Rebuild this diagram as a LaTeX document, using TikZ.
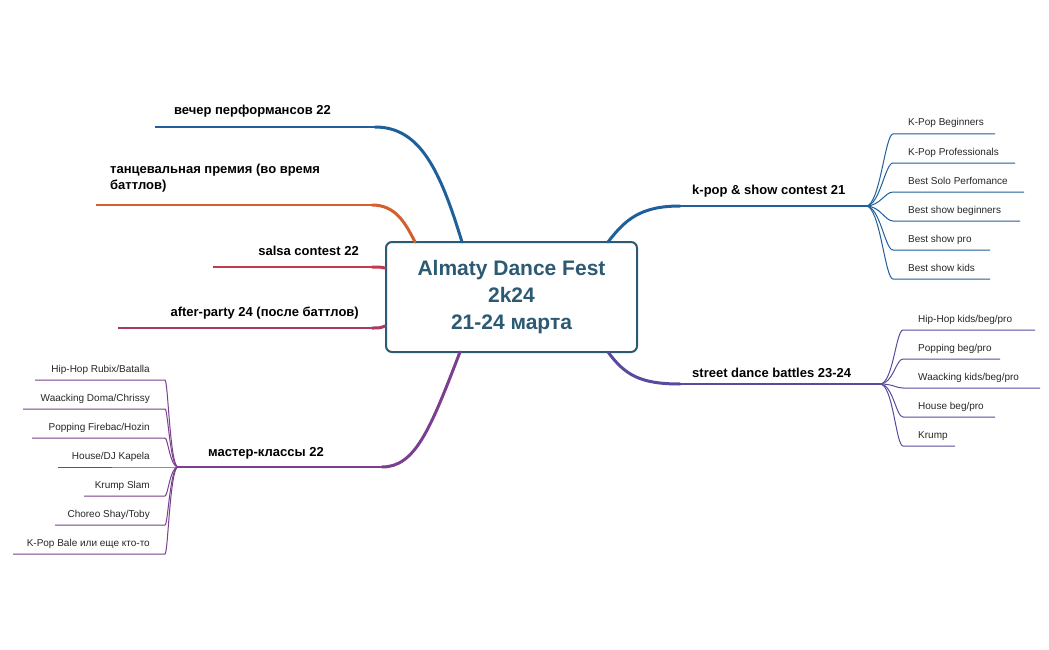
\documentclass[tikz,border=0pt]{standalone}
\usepackage{fontspec}
\setmainfont{Liberation Sans}
\definecolor{cblue}{HTML}{1F5F9A}
\definecolor{corange}{HTML}{D2602E}
\definecolor{cred}{HTML}{C23A4E}
\definecolor{cmag}{HTML}{A83A62}
\definecolor{cpurp}{HTML}{7A3F8E}
\definecolor{cind}{HTML}{5A4A9E}
\definecolor{cbox}{HTML}{2C5A73}
\tikzset{
 main/.style={font=\fontsize{13}{16}\selectfont\bfseries,inner sep=0pt},
 leaf/.style={font=\fontsize{10}{12}\selectfont,inner sep=0pt,text=black!85},
 br/.style={line width=3pt,line cap=round},
 ul/.style={line width=1.8pt},
 lf/.style={line width=1pt},
}
\begin{document}
\begin{tikzpicture}[x=1pt,y=-1pt]
\useasboundingbox (0,0) rectangle (1049,650);
\node[draw=cbox,line width=2pt,rounded corners=6pt,minimum width=251pt,minimum height=110pt,align=center,text=cbox,font=\fontsize{21}{27}\selectfont\bfseries] (c) at (511.5,297) {Almaty Dance Fest\\2k24\\21-24 марта};
% left 1
\node[main,anchor=base east] (l1) at (331,115) {вечер перформансов 22};
\coordinate (l1a) at (375,127); \coordinate (l1b) at (155,127);
\draw[cblue,br] (462,242) .. controls (440,170) and (420,127) .. (l1a);
\draw[cblue,ul] (l1a) -- (l1b);
% left 2
\node[main,anchor=north west,align=left] (l2) at (110,164) {танцевальная премия (во время\\баттлов)};
\coordinate (l2a) at (372,205); \coordinate (l2b) at (96,205);
\draw[corange,br] (415,242) .. controls (405,222) and (395,205) .. (l2a);
\draw[corange,ul] (l2a) -- (l2b);
% left 3
\node[main,anchor=base east] (l3) at (359,255) {salsa contest 22};
\coordinate (l3a) at (372,267); \coordinate (l3b) at (213,267);
\draw[cred,br] (c.west|-0,268) .. controls (380,267) .. (l3a);
\draw[cred,ul] (l3a) -- (l3b);
% left 4
\node[main,anchor=base east] (l4) at (359,316) {after-party 24 (после баттлов)};
\coordinate (l4a) at (372,328); \coordinate (l4b) at (118,328);
\draw[cmag,br] (c.west|-0,326) .. controls (380,328) .. (l4a);
\draw[cmag,ul] (l4a) -- (l4b);
% left 5
\node[main,anchor=base west] (l5) at (208,456) {мастер-классы 22};
\coordinate (l5a) at (382,467); \coordinate (l5b) at (178,467);
\draw[cpurp,br] (460,352) .. controls (430,430) and (415,467) .. (l5a);
\draw[cpurp,ul] (l5a) -- (l5b);
\foreach \t/\y/\s [count=\i] in {{Hip-Hop Rubix/Batalla}/380/35,{Waacking Doma/Chrissy}/409/23,{Popping Firebac/Hozin}/438/32,{House/DJ Kapela}/467/58,{Krump Slam}/496/84,{Choreo Shay/Toby}/525/55,{K-Pop Bale или еще кто-то}/554/13}{
 \node[leaf,anchor=base east] (m\i) at (150,\y-8) {\t};
 \coordinate (m\i e) at (165,\y);
 \draw[cpurp,lf] (l5b) .. controls (170,467) and (168,\y) .. (m\i e) -- (\s,\y);
}
% right 6
\node[main,anchor=base west] (r1) at (692,194) {k-pop \& show contest 21};
\coordinate (r1a) at (680,206); \coordinate (r1b) at (866,206);
\draw[cblue,br] (608,242) .. controls (625,220) and (640,206) .. (r1a);
\draw[cblue,ul] (r1a) -- (r1b);
\foreach \t/\y/\s [count=\i] in {{K-Pop Beginners}/134/995,{K-Pop Professionals}/163/1015,{Best Solo Perfomance}/192/1024,{Best show beginners}/221/1020,{Best show pro}/250/990,{Best show kids}/279/990}{
 \node[leaf,anchor=base west] (k\i) at (908,\y-8) {\t};
 \coordinate (k\i e) at (893,\y);
 \draw[cblue,lf] (r1b) .. controls (880,206) and (885,\y) .. (k\i e) -- (\s,\y);
}
% right 7
\node[main,anchor=base west] (r2) at (692,377) {street dance battles 23-24};
\coordinate (r2a) at (680,384); \coordinate (r2b) at (880,384);
\draw[cind,br] (608,352) .. controls (625,375) and (640,384) .. (r2a);
\draw[cind,ul] (r2a) -- (r2b);
\foreach \t/\y/\s [count=\i] in {{Hip-Hop kids/beg/pro}/330/1035,{Popping beg/pro}/359/1000,{Waacking kids/beg/pro}/388/1040,{House beg/pro}/417/995,{Krump}/446/955}{
 \node[leaf,anchor=base west] (s\i) at (918,\y-8) {\t};
 \coordinate (s\i e) at (903,\y);
 \draw[cind,lf] (r2b) .. controls (893,384) and (896,\y) .. (s\i e) -- (\s,\y);
}
\end{tikzpicture}
\end{document}
